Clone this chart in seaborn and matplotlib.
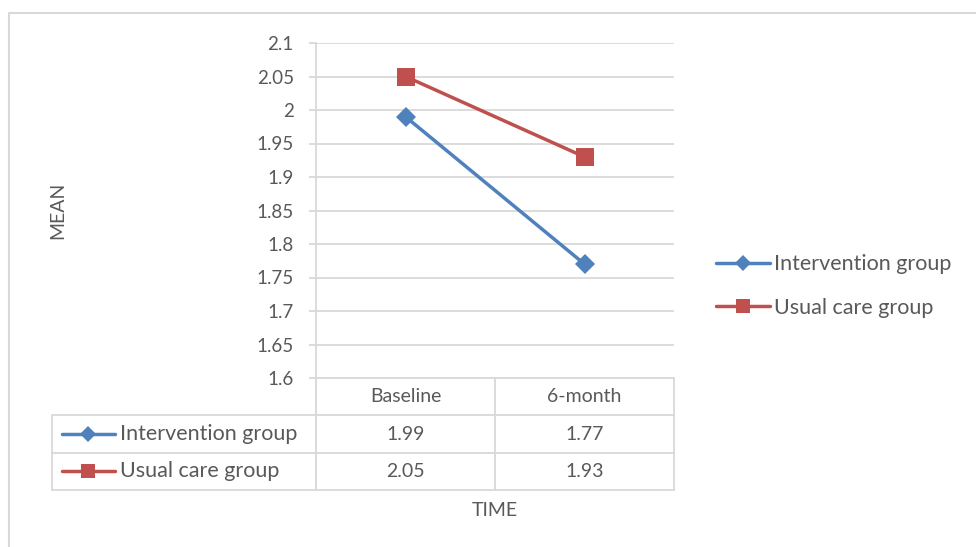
import numpy as np
import pandas as pd
import matplotlib.pyplot as plt
from matplotlib.lines import Line2D
import seaborn as sns

# data
time_points = ['Baseline', '6-month']
groups = ['Intervention group', 'Usual care group']
intervention = [1.99, 1.77]
usual_care = [2.05, 1.93]
y_ticks = [1.6, 1.65, 1.7, 1.75, 1.8, 1.85, 1.9, 1.95, 2.0, 2.05, 2.1]

colors = {'Intervention group': '#4F81BD', 'Usual care group': '#C0504D'}
markers = {'Intervention group': 'D', 'Usual care group': 's'}
msizes = {'Intervention group': 10.5, 'Usual care group': 13}
grey = '#d9d9d9'
txt = '#595959'

df = pd.DataFrame({
    'time': time_points * 2,
    'mean': intervention + usual_care,
    'group': [groups[0]] * 2 + [groups[1]] * 2,
})

sns.set_theme(style='white')
plt.rcParams['font.family'] = ['Lato', 'DejaVu Sans']
plt.rcParams['text.color'] = txt

fig = plt.figure(figsize=(9.76, 5.47), dpi=100)
ax = fig.add_axes([316 / 976, 1 - 378 / 547, 358 / 976, 335 / 547])

for g in groups:
    sub = df[df['group'] == g]
    sns.lineplot(data=sub, x='time', y='mean', color=colors[g], marker=markers[g],
                 markersize=msizes[g], markeredgewidth=0, linewidth=2.5,
                 sort=False, ax=ax, legend=False, label=g)

ax.set_xlim(-0.5, 1.5)
ax.set_ylim(1.6, 2.1)
ax.set_yticks(y_ticks)
ax.set_yticklabels([f'{v:g}' for v in y_ticks], fontsize=13.5, color=txt)
ax.set_xticks([])
ax.set_xlabel('')
ax.set_ylabel('')
ax.tick_params(axis='y', length=5, width=1.3, color=grey, pad=11, left=True)
ax.yaxis.grid(True, color=grey, linewidth=1.3)
for s in ['top', 'right', 'bottom']:
    ax.spines[s].set_visible(False)
ax.spines['left'].set_color(grey)
ax.spines['left'].set_linewidth(1.3)

# data table under the axis (first column holds the series keys)
cell_text = [[''] + [f'{v:.2f}' for v in intervention],
             [''] + [f'{v:.2f}' for v in usual_care]]
tab = ax.table(cellText=cell_text, colLabels=[''] + time_points,
               colWidths=[264, 179, 179], cellLoc='center',
               bbox=[-264 / 358, -112 / 335, 622 / 358, 112 / 335])
tab.auto_set_font_size(False)
for (r, c), cell in tab.get_celld().items():
    cell.set_edgecolor(grey)
    cell.set_linewidth(1.3)
    cell.get_text().set_fontsize(14)
    cell.get_text().set_color(txt)
    if r == 0 and c == 0:
        cell.visible_edges = 'R'
# row labels: tiny legend key + text
for i, g in enumerate(groups):
    yc = -(112 / 335) * (1.5 + i) / 3
    ax.plot([-254 / 358, -228 / 358, -201 / 358], [yc, yc, yc], transform=ax.transAxes,
            clip_on=False, color=colors[g], linewidth=2.5, marker=markers[g],
            markersize=msizes[g] * 0.8, markeredgewidth=0, markevery=[1])
    ax.text(-196 / 358, yc, g, transform=ax.transAxes, fontsize=15.5, color=txt,
            ha='left', va='center')

# legend on the right
handles = [Line2D([0], [0], color=colors[g], linewidth=2.5, marker=markers[g],
                  markersize=msizes[g] * 0.8, markeredgewidth=0) for g in groups]
fig.legend(handles, groups, loc='center left', bbox_to_anchor=(705 / 976, 1 - 286 / 547),
           frameon=False, fontsize=15.5, handlelength=2.5, handletextpad=0.2,
           labelspacing=1.1, borderpad=0, labelcolor=txt)

fig.text(58 / 976, 1 - 210 / 547, 'MEAN', rotation=90, ha='center', va='center',
         fontsize=14, color=txt)
fig.text(495 / 976, 1 - 510 / 547, 'TIME', ha='center', va='center', fontsize=14, color=txt)

# chart area border
fig.add_artist(Line2D([9 / 976, 9 / 976, 1], [0, 1 - 13 / 547, 1 - 13 / 547],
                      transform=fig.transFigure, color=grey, linewidth=1.5))

fig.savefig('out.png', dpi=100)
